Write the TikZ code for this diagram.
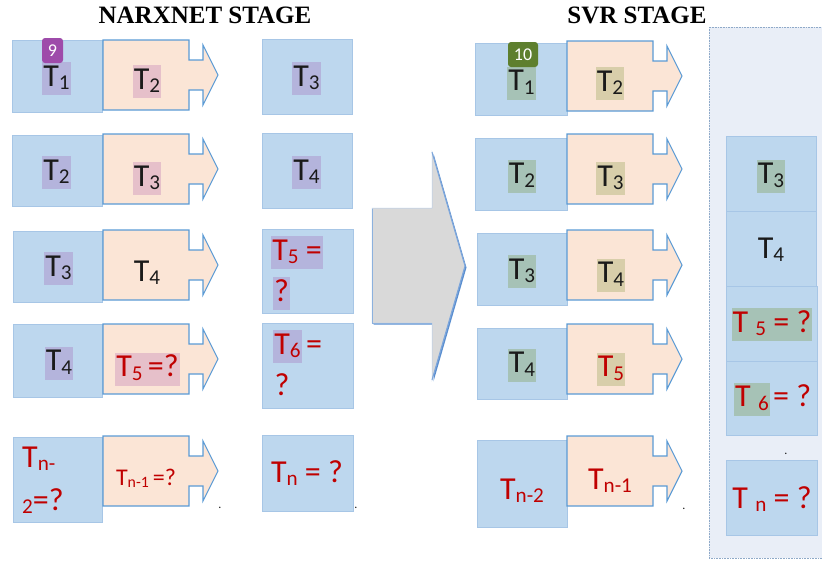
\documentclass[tikz,border=0pt]{standalone}
\usepackage{fontspec}
\setmainfont{Carlito}
\newfontfamily\titlefont{Liberation Serif}

\definecolor{boxblue}{HTML}{BDD7EE}
\definecolor{boxedge}{HTML}{A7C6E6}
\definecolor{callfill}{HTML}{FBE5D6}
\definecolor{calledge}{HTML}{5B9BD5}
\definecolor{hlpurple}{HTML}{B4B4DC}
\definecolor{hlpink}{HTML}{E6C0CA}
\definecolor{hlgreen}{HTML}{A6C2B6}
\definecolor{hltan}{HTML}{D8CEAA}
\definecolor{ink}{HTML}{1A1A1A}
\definecolor{redtxt}{HTML}{C00000}
\definecolor{panelfill}{HTML}{E9EEF7}
\definecolor{paneledge}{HTML}{8EA9C8}
\definecolor{badgepurple}{HTML}{9E4BAA}
\definecolor{badgegreen}{HTML}{5E7F2E}
\definecolor{arrowgray}{HTML}{D9D9D9}
\definecolor{arrowedge}{HTML}{5B8FD0}

% lowered, reduced index after a letter
\newcommand\lowsub[1]{\raisebox{-0.12em}{\scalebox{0.66}{#1}}}

% right-pointing callout: #1 left x, #2 right x of the body, #3 top y
\newcommand\callout[3]{%
  \draw[callstyle] (#1,#3) -- (#2,#3) -- (#2,#3+20) -- (#2+14,#3+20)
    -- (#2+14,#3+5) -- (#2+29,#3+35) -- (#2+14,#3+65) -- (#2+14,#3+50)
    -- (#2,#3+50) -- (#2,#3+70) -- (#1,#3+70) -- cycle;}

\tikzset{
  bluebox/.style={fill=boxblue, draw=boxedge, line width=0.7pt},
  callstyle/.style={fill=callfill, draw=calledge, line width=1.1pt},
  lbl/.style={font=\fontsize{32}{32}\selectfont, inner xsep=1pt, inner ysep=0pt,
              text height=24pt, text depth=9pt, text=ink},
  plain/.style={font=\fontsize{32}{32}\selectfont, inner sep=0pt, text=redtxt, anchor=base},
  badge/.style={rounded corners=3pt, text=white, inner sep=0pt,
                font=\fontsize{18}{18}\selectfont, minimum height=25pt},
  stagetitle/.style={font=\titlefont\bfseries\fontsize{25}{25}\selectfont, inner sep=0pt},
  dotmark/.style={font=\fontsize{12}{12}\selectfont, inner sep=0pt, anchor=base, text=ink},
}

\begin{document}
\begin{tikzpicture}[x=1pt, y=-1pt]
\useasboundingbox (0,0) rectangle (822,560);
\clip (0,0) rectangle (822,560);

% ---------- titles ----------
\node[stagetitle] (narxtitle) at (205,15) {NARXNET STAGE};
\node[stagetitle] (svrtitle) at (637,15) {SVR STAGE};

% ---------- NARXNET stage ----------
\draw[bluebox] (12,40) rectangle (102,112);
\draw[bluebox] (12,135) rectangle (102,206);
\draw[bluebox] (13,231) rectangle (102,302);
\draw[bluebox] (13,324) rectangle (102,397);
\draw[bluebox] (13,437) rectangle (102,522);

\callout{103}{189}{40}
\callout{103}{189}{134}
\callout{103}{189}{230}
\callout{103}{189}{324}
\callout{103}{189}{436}

\draw[bluebox] (262,39) rectangle (352,114);
\draw[bluebox] (262,133) rectangle (352,208);
\draw[bluebox] (262,229) rectangle (353,313);
\draw[bluebox] (262,323) rectangle (353,408);
\draw[bluebox] (262,435) rectangle (353,511);

\node[lbl, fill=hlpurple] (nA1) at (56.5,78.5) {T\lowsub{1}};
\node[lbl, fill=hlpink] (nB1) at (147,81.5) {T\lowsub{2}};
\node[lbl, fill=hlpurple] (nC1) at (306.5,78.5) {T\lowsub{3}};

\node[lbl, fill=hlpurple] (nA2) at (56.5,172.5) {T\lowsub{2}};
\node[lbl, fill=hlpink] (nB2) at (147,178.5) {T\lowsub{3}};
\node[lbl, fill=hlpurple] (nC2) at (306.5,172.5) {T\lowsub{4}};

\node[lbl, fill=hlpurple] (nA3) at (58.5,268.5) {T\lowsub{3}};
\node[plain, text=ink] (nB3) at (147,281) {T\lowsub{4}};
\node[lbl, fill=hlpurple, text=redtxt] (nC3) at (297,252.5) {T\lowsub{5} =};
\node[lbl, fill=hlpurple, text=redtxt] (nC3q) at (281.5,293.5) {?};

\node[lbl, fill=hlpurple] (nA4) at (59,363) {T\lowsub{4}};
\node[lbl, fill=hlpink, text=redtxt] (nB4) at (147.5,369) {T\lowsub{5}\,=?};
\node[lbl, fill=hlpurple, text=redtxt] (nC4) at (287.5,346.5) {T\lowsub{6}};
\node[plain, anchor=base west] (nC4e) at ([xshift=4pt]nC4.base east) {=};
\node[plain] (nC4q) at (282,395) {?};

\node[plain, anchor=base west] (nA5) at (22,467) {T\lowsub{n-}};
\node[plain, anchor=base west] (nA5b) at (22,510) {\lowsub{2}=?};
\node[plain, font=\fontsize{24}{24}\selectfont] (nB5) at (146,485) {T\lowsub{n-1}\,=?};
\node[plain] (nC5) at (307,482) {T\lowsub{n} = ?};

\node[dotmark] (ndot1) at (220,508) {.};
\node[dotmark] (ndot2) at (356,508) {.};

\node[badge, fill=badgepurple, minimum width=21pt] (badge9) at (52.5,50.5) {9};

% ---------- transition arrow ----------
\fill[arrowedge] (373.5,209.5) -- (433.5,209.5) -- (433.5,153.5) -- (466.5,267.5)
  -- (433.5,381.5) -- (433.5,324.5) -- (373.5,324.5) -- cycle;
\filldraw[fill=arrowgray, draw=arrowedge!45, line width=0.5pt]
  (372,208) -- (432,208) -- (432,152) -- (465,266) -- (432,380) -- (432,323)
  -- (372,323) -- cycle;
% blue rim along the lit edges
\draw[arrowedge!80, line width=1pt, line join=round]
  (432,152) -- (465,266) -- (432,380);
\draw[arrowedge!70, line width=1pt] (372,209) -- (372,323) -- (432,323);

% ---------- SVR stage ----------
\draw[paneledge, fill=panelfill, densely dotted, line width=0.6pt]
  (709,27) rectangle (830,558);

\draw[bluebox] (475,43) rectangle (567,115);
\draw[bluebox] (475,138) rectangle (567,210);
\draw[bluebox] (477,233) rectangle (567,305);
\draw[bluebox] (477,328) rectangle (567,399);
\draw[bluebox] (477,440) rectangle (567,527);

\callout{567}{653}{41}
\callout{567}{653}{134}
\callout{567}{653}{230}
\callout{567}{653}{324}
\callout{567}{653}{436}

\draw[bluebox] (726,136) rectangle (816,211);
\draw[bluebox] (726,211) rectangle (816,286);
\draw[bluebox] (726,286) rectangle (817,361);
\draw[bluebox] (726,361) rectangle (817,435);
\draw[bluebox] (726,460) rectangle (817,535);

\node[lbl, fill=hlgreen] (sA1) at (521.5,83) {T\lowsub{1}};
\node[lbl, fill=hltan] (sB1) at (610,83.5) {T\lowsub{2}};

\node[lbl, fill=hlgreen] (sA2) at (522,176) {T\lowsub{2}};
\node[lbl, fill=hltan] (sB2) at (610.5,178.5) {T\lowsub{3}};

\node[lbl, fill=hlgreen] (sA3) at (522,271.5) {T\lowsub{3}};
\node[lbl, fill=hltan] (sB3) at (611,275) {T\lowsub{4}};

\node[lbl, fill=hlgreen] (sA4) at (522,365) {T\lowsub{4}};
\node[lbl, fill=hltan, text=redtxt] (sB4) at (611,369) {T\lowsub{5}};

\node[plain] (sA5) at (522,499) {T\lowsub{n-2}};
\node[plain] (sB5) at (610,489) {T\lowsub{n-1}};
\node[dotmark] (sdot1) at (684,509) {.};

\node[badge, fill=badgegreen, minimum width=30pt] (badge10) at (523,54.5) {10};

% stacked forecast column
\node[lbl, fill=hlgreen] (cT3) at (771,176) {T\lowsub{3}};
\node[plain, text=ink] (cT4) at (771,258) {T\lowsub{4}};
\node[lbl, fill=hlgreen, text=redtxt] (cT5) at (772,324.5) {T \lowsub{5} = ?};
\node[lbl, fill=hlgreen, text=redtxt] (cT6) at (752,399) {T \lowsub{6}};
\node[plain, anchor=base west] (cT6e) at ([xshift=3pt]cT6.base east) {= ?};
\node[dotmark] (cdot) at (786,454) {.};
\node[plain] (cTn) at (772,508) {T \lowsub{n} = ?};
\end{tikzpicture}
\end{document}
